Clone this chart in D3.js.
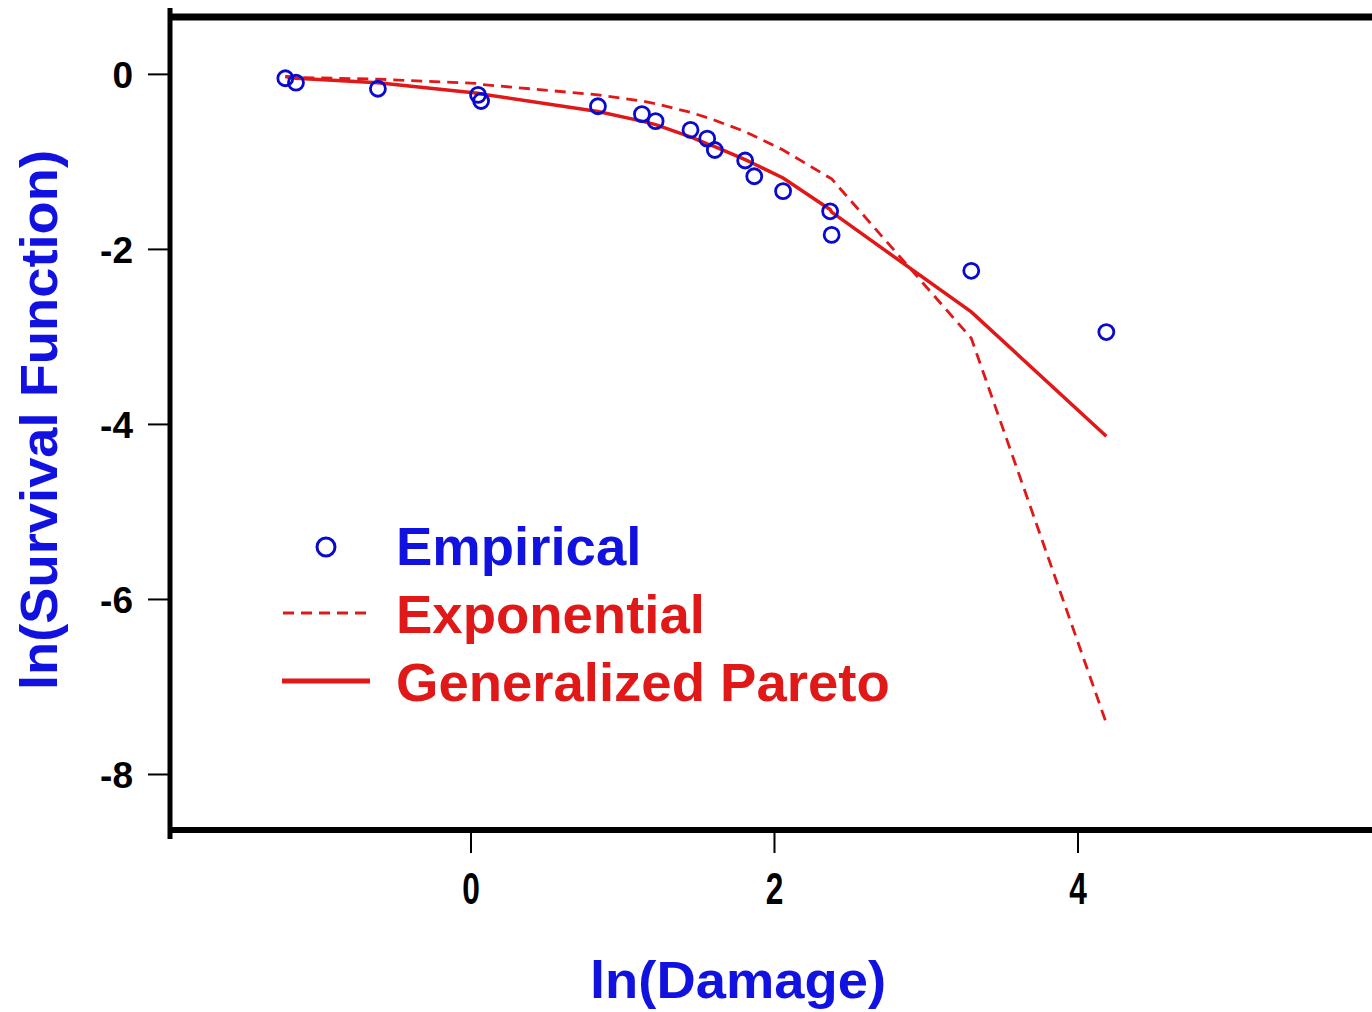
<!DOCTYPE html>
<html>
<head>
    <meta charset="utf-8">
    <title>ln(Survival Function) vs ln(Damage)</title>
    <style>
        html, body { margin: 0; padding: 0; background: #fff; overflow: hidden; }
        svg text { font-family: "Liberation Sans", Arial, sans-serif; font-weight: bold; }
    </style>
</head>
<body>
<svg id="chart" width="1372" height="1012"></svg>
<script src="https://cdn.jsdelivr.net/npm/d3@7"></script>
<script>
    // ln(Damage) of each observation
    var lnDamage = [-1.22, -1.15, -0.61, 0.05, 0.07, 0.84, 1.13, 1.22, 1.45, 1.56, 1.61, 1.81, 1.87, 2.06, 2.37, 2.38, 3.30, 4.19];
    // empirical ln(S)
    var empirical = [-0.05, -0.10, -0.17, -0.24, -0.31, -0.37, -0.46, -0.54, -0.64, -0.74, -0.87, -0.99, -1.17, -1.34, -1.57, -1.84, -2.25, -2.95];
    // fitted exponential ln(S)
    var exponential = [-0.03, -0.04, -0.06, -0.11, -0.12, -0.24, -0.31, -0.34, -0.44, -0.50, -0.53, -0.66, -0.71, -0.87, -1.19, -1.20, -3.02, -7.42];
    // fitted generalized pareto ln(S)
    var genPareto = [-0.03, -0.05, -0.10, -0.22, -0.23, -0.43, -0.54, -0.58, -0.72, -0.80, -0.83, -0.98, -1.03, -1.19, -1.55, -1.58, -2.72, -4.14];

    var xTicks = [0, 2, 4];
    var yTicks = [0, -2, -4, -6, -8];
    var legendItems = ["Empirical", "Exponential", "Generalized Pareto"];

    var blue = "#1212e0", ptBlue = "#0a0acc", red = "#e01818";

    var svg = d3.select("#chart");
    var x = d3.scaleLinear().domain([-1.98, 6.0]).range([170, 1381]);
    var y = d3.scaleLinear().domain([0.65, -8.64]).range([17, 830]);

    // y axis
    var yAx = svg.append("g").attr("transform", "translate(170,0)")
        .call(d3.axisLeft(y).tickValues(yTicks).tickSize(22).tickPadding(15).tickFormat(function (d) { return String(d); }));
    yAx.select(".domain").remove();
    yAx.selectAll(".tick line").attr("stroke", "#000").attr("stroke-width", 2);
    yAx.selectAll(".tick text").attr("font-size", 37).attr("fill", "#000").attr("dy", "0.36em")
        .attr("font-family", "Liberation Sans, Arial, sans-serif");

    // x axis
    var xAx = svg.append("g").attr("transform", "translate(0,830)")
        .call(d3.axisBottom(x).tickValues(xTicks).tickSize(23).tickFormat(function (d) { return String(d); }));
    xAx.select(".domain").remove();
    xAx.selectAll(".tick line").attr("stroke", "#000").attr("stroke-width", 2);
    xAx.selectAll(".tick text").text(null);
    xAx.selectAll(".tick").append("text")
        .attr("transform", "translate(0,74) scale(0.72,1)")
        .attr("text-anchor", "middle")
        .attr("font-size", 44).attr("fill", "#000")
        .text(function (d) { return String(d); });

    // frame
    var frame = svg.append("g").attr("stroke", "#000").attr("fill", "none");
    frame.append("line").attr("x1", 170).attr("x2", 170).attr("y1", 8).attr("y2", 839).attr("stroke-width", 5);
    frame.append("line").attr("x1", 168).attr("x2", 1380).attr("y1", y(0.65)).attr("y2", y(0.65)).attr("stroke-width", 7);
    frame.append("line").attr("x1", 168).attr("x2", 1380).attr("y1", y(-8.64)).attr("y2", y(-8.64)).attr("stroke-width", 6);

    var line = d3.line().x(function (d) { return x(d[0]); }).y(function (d) { return y(d[1]); });

    svg.append("path")
        .datum(d3.zip(lnDamage, exponential))
        .attr("d", line).attr("fill", "none")
        .attr("stroke", red).attr("stroke-width", 2.8).attr("stroke-dasharray", "11,7");

    svg.append("path")
        .datum(d3.zip(lnDamage, genPareto))
        .attr("d", line).attr("fill", "none")
        .attr("stroke", red).attr("stroke-width", 3.5);

    svg.append("g").selectAll("circle")
        .data(d3.zip(lnDamage, empirical))
        .join("circle")
        .attr("cx", function (d) { return x(d[0]); })
        .attr("cy", function (d) { return y(d[1]); })
        .attr("r", 7.5)
        .attr("fill", "none").attr("stroke", ptBlue).attr("stroke-width", 2.8);

    // legend
    var lg = svg.append("g");
    lg.append("circle").attr("cx", 326).attr("cy", 547).attr("r", 9)
        .attr("fill", "none").attr("stroke", ptBlue).attr("stroke-width", 3);
    lg.append("line").attr("x1", 283).attr("x2", 370).attr("y1", 613).attr("y2", 613)
        .attr("stroke", red).attr("stroke-width", 2.8).attr("stroke-dasharray", "11,7");
    lg.append("line").attr("x1", 282).attr("x2", 370).attr("y1", 681).attr("y2", 681)
        .attr("stroke", red).attr("stroke-width", 5);
    lg.selectAll("text").data(legendItems).join("text")
        .attr("x", 396)
        .attr("y", function (d, i) { return 565 + i * 68; })
        .attr("font-size", 54.5)
        .attr("fill", function (d, i) { return i === 0 ? blue : red; })
        .text(function (d) { return d; });

    // axis titles
    svg.append("text")
        .attr("transform", "translate(57,420) rotate(-90)")
        .attr("text-anchor", "middle")
        .attr("font-size", 52).attr("fill", blue)
        .attr("textLength", 540).attr("lengthAdjust", "spacingAndGlyphs")
        .text("ln(Survival Function)");
    svg.append("text")
        .attr("x", 738).attr("y", 998)
        .attr("text-anchor", "middle")
        .attr("font-size", 52).attr("fill", blue)
        .attr("textLength", 296).attr("lengthAdjust", "spacingAndGlyphs")
        .text("ln(Damage)");
</script>
</body>
</html>
